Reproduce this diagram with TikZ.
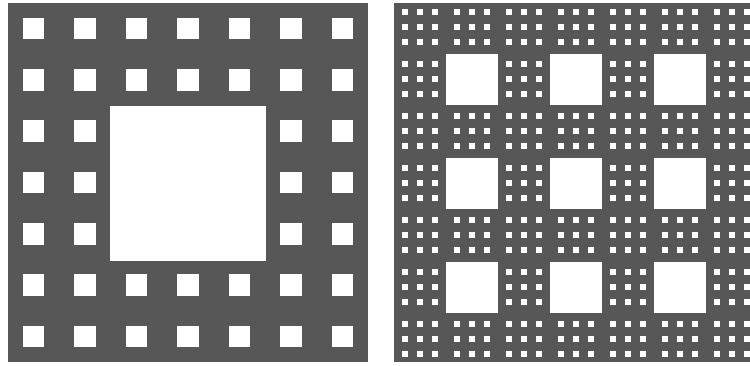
\documentclass[tikz,border=0pt]{standalone}

\begin{document}
\begin{tikzpicture}[x=1pt,y=-1pt,
 carpet/.style={fill=black!66},
 hole/.style={fill=white}]
\useasboundingbox (0,0) rectangle (750,365);
% left carpet: 7x7 holes, centre block open
\fill[carpet] (8,3) rectangle (368,362);
\foreach \i in {0,...,6}
 \foreach \j in {0,...,6}
  \fill[hole] ({8+51.43*(\i+.5)-10.75},{3+51.29*(\j+.5)-10.75}) rectangle +(21.5,21.5);
\fill[hole] (110,106) rectangle (266,261);
% right carpet: 3x3 dots per cell, big holes on odd cells
\begin{scope}
\clip (0,0) rectangle (750,365);
\fill[carpet] (394,3) rectangle (760,362);
\foreach \i in {0,...,6}
 \foreach \j in {0,...,6}
  \foreach \a in {-15,0,15}
   \foreach \b in {-15,0,15}
    \fill[hole] ({420+52*\i+\a-2.8},{27+52*\j+\b-2.8}) rectangle +(5.6,5.6);
\foreach \i in {1,3,5}
 \foreach \j in {1,3,5}
  \fill[hole] ({420+52*\i-26},{27+52*\j-25.5}) rectangle +(52,51);
\end{scope}
\end{tikzpicture}
\end{document}
